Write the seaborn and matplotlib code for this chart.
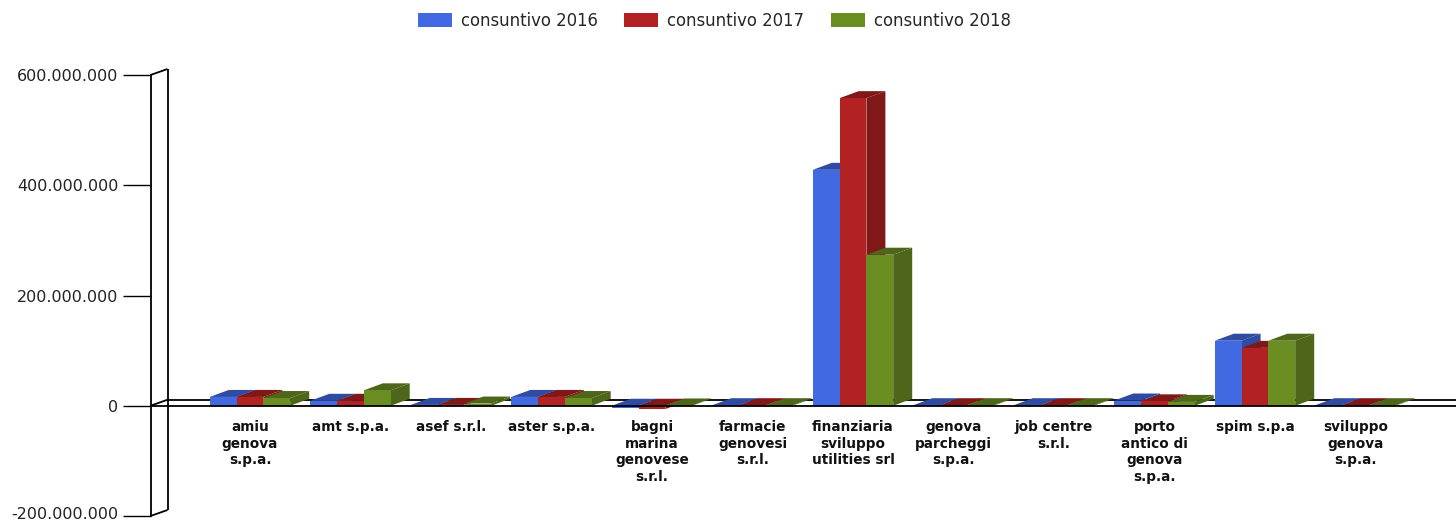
import numpy as np
import pandas as pd
import matplotlib
matplotlib.use("Agg")
import matplotlib.pyplot as plt
from matplotlib.colors import to_rgb
from matplotlib.patches import Polygon
from matplotlib.ticker import FuncFormatter
from matplotlib.transforms import ScaledTranslation
import seaborn as sns

categories = ["amiu\ngenova\ns.p.a.", "amt s.p.a.", "asef s.r.l.", "aster s.p.a.",
              "bagni\nmarina\ngenovese\ns.r.l.", "farmacie\ngenovesi\ns.r.l.",
              "finanziaria\nsviluppo\nutilities srl", "genova\nparcheggi\ns.p.a.",
              "job centre\ns.r.l.", "porto\nantico di\ngenova\ns.p.a.", "spim s.p.a",
              "sviluppo\ngenova\ns.p.a."]
series_names = ["consuntivo 2016", "consuntivo 2017", "consuntivo 2018"]
v2016 = [16e6, 9e6, 1.5e6, 16e6, -4e6, 1e6, 428e6, 1e6, 1e6, 9.5e6, 118e6, 1e6]
v2017 = [16e6, 9e6, 1.5e6, 16e6, -6e6, 1e6, 558e6, 1e6, 1e6, 8e6, 105e6, 1e6]
v2018 = [14e6, 28e6, 4e6, 14e6, 0.5e6, 1e6, 274e6, 1e6, 1e6, 7e6, 118e6, 1e6]
colors = ["#4169E1", "#B22222", "#6B8E23"]
y_ticks = [-200e6, 0, 200e6, 400e6, 600e6]

df = pd.DataFrame({
    "societa": categories * 3,
    "serie": np.repeat(series_names, len(categories)),
    "valore": v2016 + v2017 + v2018,
})

sns.set_style("white")
plt.rcParams["font.family"] = ["DejaVu Sans"]
W, H = 1456, 522
fig = plt.figure(figsize=(W / 100, H / 100), dpi=100)
ax = fig.add_axes([150.5 / W, (H - 516) / H, (W - 150.5) / W, (516 - 75) / H])

sns.barplot(data=df, x="societa", y="valore", hue="serie", palette=colors,
            saturation=1, width=0.8, gap=0, dodge=True, ax=ax, linewidth=0)

x_unit = 100.5   # pixels per category
y_unit = 441 / 800e6  # pixels per value
ax.set_ylim(-200e6, 600e6)
ax.set_xlim((150.5 - 250) / x_unit, (W - 250) / x_unit)

# 3D depth of bars, in data units
bar_dx, bar_dy = 19 / x_unit, 7 / y_unit
wall_dx, wall_dy = 17 / x_unit, 6 / y_unit

for i, (container, col) in enumerate(zip(ax.containers, colors)):
    dark = tuple(c * 0.72 for c in to_rgb(col))
    for bar in container:
        bar.set_zorder(4 + 2 * i)
        x0, x1 = bar.get_x(), bar.get_x() + bar.get_width()
        lo = min(bar.get_y(), bar.get_y() + bar.get_height())
        hi = max(bar.get_y(), bar.get_y() + bar.get_height())
        side = [(x1, lo), (x1 + bar_dx, lo + bar_dy), (x1 + bar_dx, hi + bar_dy), (x1, hi)]
        top = [(x0, hi), (x0 + bar_dx, hi + bar_dy), (x1 + bar_dx, hi + bar_dy), (x1, hi)]
        ax.add_patch(Polygon(side, closed=True, fc=dark, ec="none", zorder=3 + 2 * i))
        ax.add_patch(Polygon(top, closed=True, fc=dark, ec="none", zorder=3 + 2 * i))

# axis frame with depth
xl = ax.get_xlim()[0]
frame = dict(color="black", lw=1.3, clip_on=False, solid_capstyle="butt")
ax.plot([xl + wall_dx] * 2, [-200e6 + wall_dy, 600e6 + wall_dy], zorder=2, **frame)
for t in (-200e6, 0, 600e6):
    ax.plot([xl, xl + wall_dx], [t, t + wall_dy], zorder=2, **frame)
ax.plot([xl + wall_dx, ax.get_xlim()[1]], [wall_dy, wall_dy], zorder=2, **frame)
ax.axhline(0, zorder=12, **frame)

sns.despine(ax=ax, top=True, right=True, bottom=True, left=False)
ax.spines["left"].set_color("black")
ax.spines["left"].set_linewidth(1.3)
ax.set_xlabel("")
ax.set_ylabel("")
ax.set_yticks(y_ticks)
ax.yaxis.set_major_formatter(FuncFormatter(lambda v, _: f"{v:,.0f}".replace(",", ".")))
ax.tick_params(axis="y", left=True, length=20.2, width=1.0, color="black", pad=3,
               labelsize=11.5, labelcolor="#222222")
ax.tick_params(axis="x", bottom=False, length=0)
for lab in ax.get_yticklabels():
    lab.set_verticalalignment("center_baseline")
# lowest label sits right at the picture's edge: lift it just enough to stay inside
low = ax.yaxis.get_major_ticks()[0].label1
low.set_transform(low.get_transform() + ScaledTranslation(0, 2.5 / 72, fig.dpi_scale_trans))

# category labels hang below the zero line, not at the axes bottom
ax.set_xticks(range(len(categories)))
ax.set_xticklabels([])
for i, name in enumerate(categories):
    ax.annotate(name, xy=(i, 0), xytext=(0, -10.5), textcoords="offset points",
                ha="center", va="top", fontsize=9.8, fontweight="bold", color="#111111",
                linespacing=1.22, annotation_clip=False)

sns.move_legend(ax, "center", bbox_to_anchor=(714.5 / W, (H - 21) / H),
                bbox_transform=fig.transFigure, ncol=3, frameon=False, title=None,
                fontsize=11.9, handlelength=2.05, handleheight=0.95, handletextpad=0.55,
                columnspacing=1.6, borderpad=0)

fig.savefig("out.png", dpi=100)
